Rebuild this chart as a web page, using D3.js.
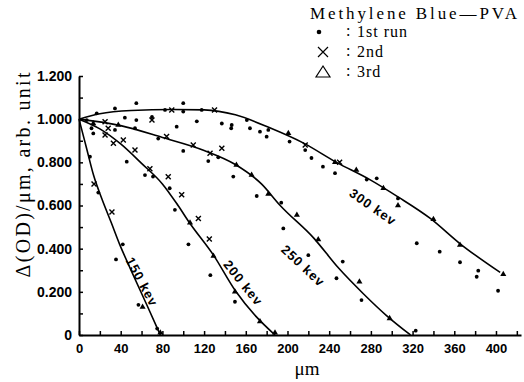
<!DOCTYPE html>
<html><head><meta charset="utf-8">
<script src="https://cdn.jsdelivr.net/npm/d3@7"></script>
<style>body{margin:0;background:#fff}svg{display:block}</style>
</head><body><svg id="c" width="524" height="382"></svg>
<script>
// ---- data ----
const xTickValues = [0,20,40,60,80,100,120,140,160,180,200,220,240,260,280,300,320,340,360,380,400,420];
const yTickValues = [0,0.1,0.2,0.3,0.4,0.5,0.6,0.7,0.8,0.9,1.0,1.1,1.2];
const curve150 = [[0,1.0],[7,0.87],[14,0.74],[22,0.63],[31,0.52],[39,0.42],[49,0.31],[65,0.14],[78,0]];
const curve200 = [[0,1.0],[20,0.955],[40,0.885],[60,0.795],[80,0.70],[95,0.60],[106,0.52],[129,0.37],[150,0.205],[170,0.085],[188,0]];
const curve250 = [[0,1.0],[40,0.97],[80,0.915],[120,0.855],[150,0.79],[175,0.70],[193,0.60],[225,0.45],[249,0.31],[273,0.19],[295,0.09],[318,0]];
const curve300 = [[0,1.0],[20,1.025],[50,1.04],[90,1.045],[120,1.043],[150,1.02],[183,0.96],[215,0.89],[247,0.80],[279,0.72],[306,0.64],[337,0.54],[365,0.425],[404,0.29]];
const curveLabels = ["150 kev","200 kev","250 kev","300 kev"];
const labelX = [60.5,157.5,215,282];
const labelY = [0.246,0.241,0.32,0.593];
const labelAngle = [62,51,43,35];
const run1Dots = [[10.5,0.826],[18.5,0.66],[35.5,0.35],[42,0.42],[57,0.14],[75,0.03],
  [13.7,0.934],[45.8,0.803],[63.3,0.741],[71,0.734],[87,0.68],[92,0.58],[105,0.42],[126,0.277],[149.6,0.154],
  [7.4,0.996],[12,0.958],[34.5,0.95],[53.7,0.958],[76,0.91],[100,0.853],[124,0.806],[133.6,0.823],[148,0.734],[170.5,0.644],[194,0.613],[196,0.494],[220,0.37],[247,0.263],[253,0.34],[271,0.162],[323,0.02],
  [17,1.027],[34.5,1.05],[44,1.007],[55,1.074],[55,0.996],[70,1.01],[82.5,1.043],[93.7,0.965],[100,1.074],[100,1.035],[113,0.99],[117.7,1.043],[137,0.98],[146.5,0.973],[146,0.958],[161,0.996],[164,0.958],[173.6,0.942],[180,0.919],[181.6,0.95],[202,0.896],[217,0.857],[223,0.82],[234,0.78],[245.6,0.75],[276,0.72],[285.6,0.726],[306,0.633],[324,0.425],[346,0.386],[365.5,0.337],[383,0.298],[381.5,0.27],[402,0.205]];
const run2Crosses = [[14.4,0.70],[31.6,0.57],
  [25,0.927],[33,0.888],[42.5,0.904],[53.7,0.857],[68,0.77],[85.6,0.733],[98.5,0.65],[114.5,0.54],[125,0.445],
  [25,0.988],[28,0.958],[84,0.92],[109.6,0.88],[125.7,0.842],[137,0.865],
  [70,0.996],[89,1.043],[130,1.043],[217,0.88],[250,0.80]];
const run3Triangles = [[61,0.13],[78,0.01],
  [106.5,0.52],[129,0.366],[149.6,0.20],[173.6,0.062],[188,0.01],
  [13.7,0.98],[37.7,0.973],[151,0.788],[165.6,0.741],[181.6,0.653],[209,0.556],[229.5,0.443],[269,0.247],[298,0.077],
  [200.8,0.935],[245.6,0.80],[266,0.765],[292,0.68],[306,0.60],[340,0.536],[365.5,0.417],[407,0.282]];
const titleText = "Methylene Blue\u2014PVA";
const legendSymbols = ["dot","cross","tri"];
const legendTexts = ["1st  run","2nd","3rd"];
const xTitle = "\u03bcm";
const yTitle = "\u0394(OD)/\u03bcm,  arb.  unit";

// ---- drawing ----
const svg = d3.select("#c");
const x = d3.scaleLinear().domain([0,424]).range([79,521]);
const y = d3.scaleLinear().domain([0,1.2]).range([335,76]);

const xAxis = d3.axisBottom(x).tickValues(xTickValues).tickSize(-4).tickSizeOuter(0).tickPadding(9)
  .tickFormat(d => (d % 40 === 0 && d <= 400) ? String(d) : "");
const gx = svg.append("g").attr("transform","translate(0,335)").call(xAxis);
const yAxis = d3.axisLeft(y).tickValues(yTickValues).tickSize(-4).tickSizeOuter(0).tickPadding(7)
  .tickFormat(d => { const k = Math.round(d*10); if (k % 2) return ""; return k === 0 ? "0" : d3.format(".3f")(d); });
const gy = svg.append("g").attr("transform","translate(79,0)").call(yAxis);
[gx,gy].forEach(g => {
  g.select(".domain").attr("stroke","#000").attr("stroke-width",2);
  g.selectAll(".tick line").attr("stroke","#000").attr("stroke-width",1.5);
  g.selectAll(".tick text").attr("fill","#000").style("font-family","'Liberation Sans',Arial,sans-serif")
    .style("font-size","14px").style("font-weight","bold");
});
gx.selectAll(".tick text").style("font-size","13px");

const line = d3.line().x(d => x(d[0])).y(d => y(d[1])).curve(d3.curveMonotoneX);
[curve150,curve200,curve250,curve300].forEach(c => {
  svg.append("path").attr("d", line(c)).attr("fill","none").attr("stroke","#000").attr("stroke-width",1.6);
});

svg.append("g").selectAll("circle").data(run1Dots).join("circle")
  .attr("cx",d=>x(d[0])).attr("cy",d=>y(d[1])).attr("r",1.9).attr("fill","#000");
svg.append("g").selectAll("path").data(run2Crosses).join("path")
  .attr("d", d => { const cx=x(d[0]), cy=y(d[1]), s=2.5; return `M${cx-s},${cy-s}L${cx+s},${cy+s}M${cx-s},${cy+s}L${cx+s},${cy-s}`; })
  .attr("stroke","#000").attr("stroke-width",1.4);
const tri = d3.symbol().type(d3.symbolTriangle).size(16);
svg.append("g").selectAll("path").data(run3Triangles).join("path")
  .attr("d", tri).attr("transform", d => `translate(${x(d[0])},${y(d[1])})`).attr("fill","#000");

curveLabels.forEach((t,i) => {
  svg.append("text").attr("transform",`translate(${x(labelX[i])},${y(labelY[i])}) rotate(${labelAngle[i]})`)
    .attr("text-anchor","middle").attr("dy","0.35em")
    .style("font-family","'Liberation Sans',Arial,sans-serif").style("font-size","13px").style("font-weight","bold")
    .style("letter-spacing","1px").text(t);
});

// titles
svg.append("text").attr("x",307).attr("y",375).attr("text-anchor","middle")
  .style("font-family","'Liberation Serif','Times New Roman',serif").style("font-size","19px").text(xTitle);
svg.append("text").attr("transform","translate(30,175) rotate(-90)").attr("text-anchor","middle")
  .attr("textLength",205).attr("lengthAdjust","spacing")
  .style("font-family","'Liberation Serif','Times New Roman',serif").style("font-size","20px").text(yTitle);

// legend
svg.append("text").attr("x",310).attr("y",19).attr("textLength",207).attr("lengthAdjust","spacing")
  .style("font-family","'Liberation Serif','Times New Roman',serif").style("font-size","17px").text(titleText);
legendSymbols.forEach((s,i) => {
  const cy = 32 + i*20, cx = 323;
  if (s === "dot") svg.append("circle").attr("cx",cx-4).attr("cy",cy).attr("r",2.3).attr("fill","#000");
  else if (s === "cross") svg.append("path").attr("d",`M${cx-5},${cy-5}L${cx+5},${cy+5}M${cx-5},${cy+5}L${cx+5},${cy-5}`).attr("stroke","#000").attr("stroke-width",1.2);
  else svg.append("path").attr("d",`M${cx},${cy-6}L${cx+7},${cy+5}L${cx-7},${cy+5}Z`).attr("fill","none").attr("stroke","#000").attr("stroke-width",1.2);
  svg.append("text").attr("x",346).attr("y",cy+4)
    .style("font-family","'Liberation Serif','Times New Roman',serif").style("font-size","16px").text(":");
  svg.append("text").attr("x",357).attr("y",cy+5)
    .style("font-family","'Liberation Serif','Times New Roman',serif").style("font-size","16px")
    .style("letter-spacing","1px").text(legendTexts[i]);
});
</script></body></html>
